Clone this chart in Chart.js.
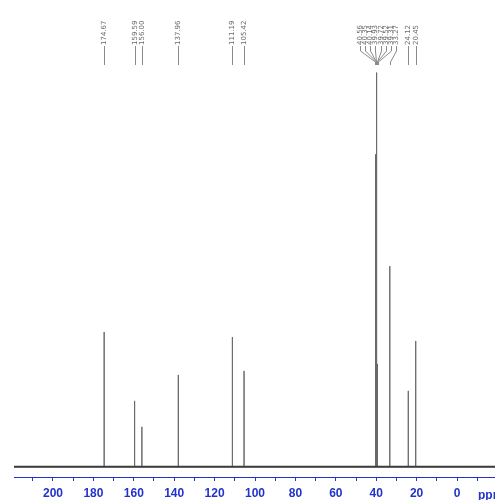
<!DOCTYPE html>
<html>
<head>
<meta charset="utf-8">
<script src="https://cdn.jsdelivr.net/npm/chart.js@4.4.1/dist/chart.umd.min.js"></script>
<style>
  html, body { margin: 0; padding: 0; background: #ffffff; }
  #wrap { width: 495px; height: 500px; }
</style>
</head>
<body>
<div id="wrap"><canvas id="c" width="495" height="500"></canvas></div>
<script>
// 13C NMR peak list (ppm) and peak intensities (arbitrary units)
const peakPpm = [174.67, 159.59, 156.00, 137.96, 111.19, 105.42,
                 40.56, 40.35, 40.14, 39.93, 39.72, 39.52, 39.31,
                 33.27, 24.12, 20.45];
const peakHeight = [135, 66, 40, 92, 130, 96,
                    28, 103, 313, 395, 313, 103, 28,
                    201, 76, 126];
// axis range (ppm) and labelled ticks
const ppmMin = -18.8;
const ppmMax = 219.3;
const majorTicks = [200, 180, 160, 140, 120, 100, 80, 60, 40, 20, 0];
const unitLabel = 'ppm';

const BLUE = '#2233cc';
const TICK_FONT = '"Liberation Sans Narrow", "Liberation Sans", Arial, sans-serif';

// Build the stick spectrum: baseline -> peak top -> baseline for every line
const order = peakPpm.map((p, i) => i).sort((a, b) => peakPpm[b] - peakPpm[a]);
const stickPoints = [{ x: ppmMax, y: 0 }];
order.forEach(i => {
  stickPoints.push({ x: peakPpm[i], y: 0 });
  stickPoints.push({ x: peakPpm[i], y: peakHeight[i] });
  stickPoints.push({ x: peakPpm[i], y: 0 });
});
stickPoints.push({ x: ppmMin, y: 0 });

// Peak labels on top, spread apart where they crowd, with leader lines
const peakLabels = {
  id: 'peakLabels',
  afterDraw(chart) {
    const ctx = chart.ctx;
    const xs = chart.scales.x;
    const gap = 5.2;
    const items = peakPpm.map(p => ({ ppm: p, px: xs.getPixelForValue(p) }));
    items.sort((a, b) => a.px - b.px);
    // merge overlapping label groups and centre each group on its peaks
    let clusters = items.map(it => ({ items: [it], center: it.px }));
    let changed = true;
    while (changed) {
      changed = false;
      for (let k = 0; k < clusters.length - 1; k++) {
        const a = clusters[k], b = clusters[k + 1];
        const aRight = a.center + (a.items.length - 1) * gap / 2;
        const bLeft = b.center - (b.items.length - 1) * gap / 2;
        if (bLeft - aRight < gap) {
          const all = a.items.concat(b.items);
          const mean = all.reduce((s, it) => s + it.px, 0) / all.length;
          clusters.splice(k, 2, { items: all, center: mean });
          changed = true;
          break;
        }
      }
    }
    clusters.forEach(c => {
      c.items.forEach((it, j) => {
        it.lx = c.center + (j - (c.items.length - 1) / 2) * gap;
      });
    });

    const textBottom = 45, y1 = 51, y2 = 62, y3 = 65;
    ctx.save();
    ctx.strokeStyle = '#8a8a8a';
    ctx.lineWidth = 1;
    items.forEach(it => {
      const lx = Math.round(it.lx) + 0.5;
      const px = Math.round(it.px) + 0.5;
      ctx.beginPath();
      ctx.moveTo(lx, textBottom + 1);
      ctx.lineTo(lx, y1);
      ctx.lineTo(px, y2);
      ctx.lineTo(px, y3);
      ctx.stroke();
    });
    ctx.fillStyle = '#6a6a6a';
    ctx.font = '7px "DejaVu Sans"';
    ctx.textAlign = 'left';
    ctx.textBaseline = 'middle';
    items.forEach(it => {
      ctx.save();
      ctx.translate(Math.round(it.lx) + 0.5, textBottom);
      ctx.rotate(-Math.PI / 2);
      ctx.fillText(it.ppm.toFixed(2), 0, 0);
      ctx.restore();
    });
    // unit label at the right end of the axis
    ctx.fillStyle = BLUE;
    ctx.font = 'bold 12px ' + TICK_FONT;
    ctx.textAlign = 'left';
    ctx.textBaseline = 'top';
    ctx.fillText(unitLabel, 478, 490);
    ctx.restore();
  }
};

new Chart(document.getElementById('c'), {
  type: 'line',
  data: {
    datasets: [
      {
        data: [{ x: ppmMax, y: 0 }, { x: ppmMin, y: 0 }],
        borderColor: '#3c3c3c',
        borderWidth: 2,
        pointRadius: 0
      },
      {
        data: stickPoints,
        borderColor: '#6a6a6a',
        borderWidth: 1,
        pointRadius: 0,
        tension: 0
      }
    ]
  },
  options: {
    responsive: false,
    devicePixelRatio: 1,
    animation: false,
    layout: { padding: { left: 14, right: 0, top: 0, bottom: -7 } },
    plugins: { legend: { display: false }, tooltip: { enabled: false } },
    scales: {
      x: {
        type: 'linear',
        reverse: true,
        min: ppmMin,
        max: ppmMax,
        grid: { drawOnChartArea: false, drawTicks: true, tickLength: 4, color: BLUE, lineWidth: 1 },
        border: { display: true, color: BLUE, width: 1 },
        ticks: {
          stepSize: 10,
          includeBounds: false,
          autoSkip: false,
          maxRotation: 0,
          padding: 7,
          color: BLUE,
          font: { family: TICK_FONT, size: 12, weight: 'bold', lineHeight: 1 },
          callback: v => majorTicks.includes(v) ? String(v) : ''
        }
      },
      y: {
        display: false,
        min: -10.3,
        max: 467.7
      }
    }
  },
  plugins: [peakLabels]
});
</script>
</body>
</html>
